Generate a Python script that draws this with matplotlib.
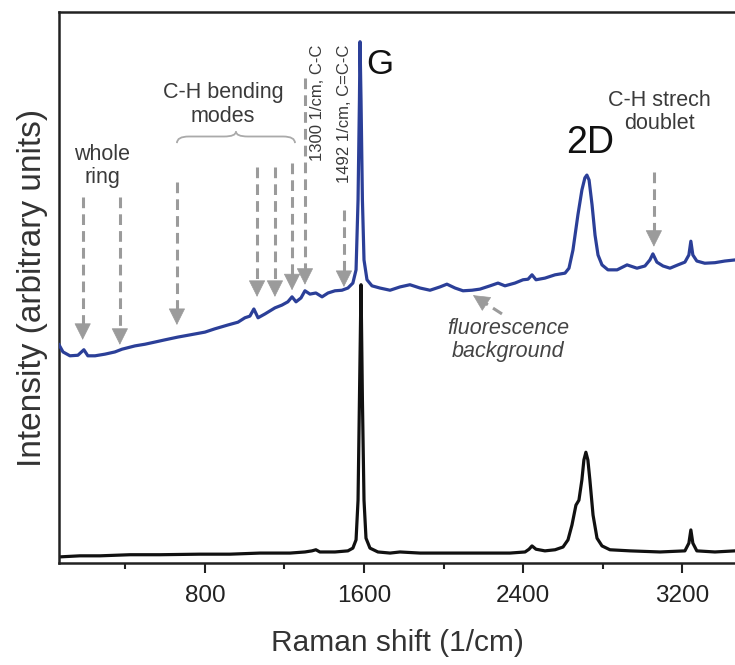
import numpy as np
import matplotlib.pyplot as plt
from matplotlib.path import Path
from matplotlib.patches import PathPatch

plt.rcParams['font.family'] = ['Liberation Sans', 'DejaVu Sans']

# graphene + adsorbate spectrum (blue)
shift_blue = [66, 86, 121, 161, 191, 211, 247, 297, 347, 383, 448, 498, 549, 599,
              664, 725, 800, 850, 916, 966, 1001, 1026, 1046, 1067, 1102, 1152,
              1187, 1217, 1238, 1258, 1283, 1303, 1328, 1358, 1389, 1419, 1454,
              1489, 1519, 1544, 1560, 1570, 1577, 1580, 1585, 1592, 1600, 1615,
              1640, 1680, 1731, 1781, 1831, 1882, 1932, 1982, 2017, 2058, 2098,
              2143, 2183, 2234, 2274, 2309, 2359, 2400, 2425, 2445, 2465, 2510,
              2561, 2611, 2631, 2651, 2676, 2696, 2711, 2721, 2732, 2747, 2762,
              2777, 2797, 2827, 2873, 2923, 2973, 3013, 3038, 3053, 3073, 3104,
              3139, 3179, 3214, 3234, 3244, 3254, 3274, 3314, 3365, 3415, 3466]
int_blue = [39.6, 38.3, 37.6, 37.7, 38.7, 37.6, 37.6, 37.9, 38.3, 38.8, 39.4, 39.7,
            40.1, 40.5, 41.0, 41.4, 41.9, 42.5, 43.2, 43.7, 44.5, 44.8, 46.1, 44.5,
            45.2, 46.3, 46.8, 47.4, 48.3, 47.4, 48.1, 49.4, 48.8, 49.0, 48.3, 49.0,
            49.4, 49.5, 49.9, 50.8, 53.2, 65.9, 84.0, 94.6, 84.0, 65.9, 55.0, 51.4,
            50.3, 49.9, 49.5, 50.1, 50.5, 49.9, 49.5, 50.1, 50.6, 49.9, 49.4, 49.5,
            49.7, 50.3, 50.8, 50.3, 50.8, 51.4, 51.5, 52.3, 51.4, 51.7, 52.3, 52.6,
            53.5, 56.8, 63.2, 67.7, 69.9, 70.4, 69.5, 65.0, 59.5, 55.9, 54.1, 53.2,
            53.2, 54.1, 53.5, 53.9, 55.0, 56.1, 54.6, 53.9, 53.5, 54.1, 54.6, 55.9,
            58.4, 55.9, 54.8, 54.4, 54.5, 54.8, 55.0]

# pristine graphene spectrum (black)
shift_black = [66, 171, 272, 423, 574, 775, 926, 1077, 1228, 1303, 1338, 1358, 1378,
               1454, 1519, 1544, 1560, 1570, 1577, 1585, 1592, 1600, 1610, 1630,
               1670, 1731, 1781, 1882, 2032, 2183, 2334, 2410, 2430, 2445, 2465,
               2510, 2561, 2601, 2626, 2646, 2666, 2681, 2696, 2706, 2716, 2726,
               2736, 2752, 2772, 2797, 2837, 2938, 3089, 3214, 3234, 3244, 3254,
               3274, 3365, 3466]
int_black = [1.1, 1.3, 1.3, 1.5, 1.5, 1.6, 1.6, 1.8, 1.8, 2.0, 2.2, 2.4, 2.0, 2.0,
             2.2, 2.7, 4.2, 11.4, 29.6, 50.5, 29.6, 11.4, 4.5, 2.7, 2.0, 1.8, 2.0,
             1.8, 1.8, 1.8, 1.8, 2.0, 2.5, 3.1, 2.5, 2.2, 2.4, 2.9, 4.2, 6.9, 10.5,
             11.4, 15.1, 18.7, 20.1, 18.7, 15.1, 8.7, 4.5, 3.1, 2.4, 2.2, 2.0, 2.2,
             3.6, 6.0, 3.6, 2.2, 2.0, 2.2]

major_ticks = [800, 1600, 2400, 3200]
minor_ticks = [400, 1200, 2000, 2800]

fig = plt.figure(figsize=(7.35, 6.65), dpi=100)
ax = fig.add_axes([0.0803, 0.1534, 0.9197, 0.8286])

ax.plot(shift_black, int_black, color='#111111', lw=2.3, zorder=2)
ax.plot(shift_blue, int_blue, color='#2b3f98', lw=2.3, zorder=3)

ax.set_xlim(66, 3466)
ax.set_ylim(0, 100)
ax.set_xticks(major_ticks)
ax.set_xticks(minor_ticks, minor=True)
ax.set_yticks([])
ax.tick_params(axis='x', which='major', direction='out', length=7, width=1.5,
               labelsize=17.5, pad=9, colors='#222222')
ax.tick_params(axis='x', which='minor', direction='out', length=4, width=1.5,
               colors='#222222')
for s in ['left', 'top', 'bottom']:
    ax.spines[s].set_linewidth(1.8)
    ax.spines[s].set_color('#222222')
ax.spines['right'].set_visible(False)

ax.set_xlabel('Raman shift (1/cm)', fontsize=21.5, color='#333333', labelpad=16)
ax.set_ylabel('Intensity (arbitrary units)', fontsize=24, color='#333333',
              labelpad=8)

grey = '#9b9b9b'
txt = '#3a3a3a'
head_px = 15


def arrow(x0, y0, x1, y1):
    # dashed shaft from (x0, y0), solid triangular head ending at (x1, y1)
    p0 = ax.transData.transform((x0, y0))
    p1 = ax.transData.transform((x1, y1))
    d = (p1 - p0) / np.hypot(*(p1 - p0))
    base = ax.transData.inverted().transform(p1 - d * head_px)
    ax.plot([x0, base[0]], [y0, base[1]], color=grey, lw=2.2,
            dashes=(3.5, 2), zorder=4)
    ax.annotate('', xy=(x1, y1), xytext=(base[0], base[1]),
                arrowprops=dict(arrowstyle='-|>,head_length=1.1,head_width=0.55',
                                color=grey, lw=0.5, mutation_scale=10,
                                shrinkA=0, shrinkB=0),
                zorder=4)


arrow(185, 66.4, 185, 40.5)
arrow(372, 66.4, 372, 39.6)
arrow(659, 69.1, 659, 43.2)
arrow(1062, 71.9, 1062, 48.3)
arrow(1152, 71.9, 1152, 48.3)
arrow(1238, 72.6, 1238, 49.5)
arrow(1303, 88.0, 1303, 50.5)
arrow(1499, 64.1, 1499, 50.1)
arrow(3058, 71.0, 3058, 57.4)
arrow(2294, 45.2, 2148, 48.6)

# curly brace over the C-H bending modes
x0, x1, ye, ym, yt = 659, 1253, 76.2, 77.4, 78.3
xm = (x0 + x1) / 2
verts = [(x0, ye), (x0, ym), (x0 + 60, ym),
         (xm - 60, ym), (xm, ym), (xm, yt),
         (xm, ym), (xm + 60, ym),
         (x1 - 60, ym), (x1, ym), (x1, ye)]
codes = [Path.MOVETO, Path.CURVE3, Path.CURVE3,
         Path.LINETO, Path.CURVE3, Path.CURVE3,
         Path.CURVE3, Path.CURVE3,
         Path.LINETO, Path.CURVE3, Path.CURVE3]
ax.add_patch(PathPatch(Path(verts, codes), fill=False, edgecolor='#aaaaaa', lw=1.3))

ax.text(282, 72.0, 'whole\nring', ha='center', va='center', fontsize=15.5,
        color=txt, linespacing=1.15)
ax.text(891, 83.2, 'C-H bending\nmodes', ha='center', va='center', fontsize=15.5,
        color=txt, linespacing=1.15)
ax.text(1368, 83.5, '1300 1/cm, C-C', rotation=90, ha='center', va='center',
        fontsize=12, color=txt)
ax.text(1504, 81.6, '1492 1/cm, C=C-C', rotation=90, ha='center', va='center',
        fontsize=12, color=txt)
ax.text(1680, 90.4, 'G', ha='center', va='center', fontsize=25, color='#111111')
ax.text(2737, 76.2, '2D', ha='center', va='center', fontsize=27, color='#111111')
ax.text(3084, 81.8, 'C-H strech\ndoublet', ha='center', va='center', fontsize=15.5,
        color=txt, linespacing=1.15)
ax.text(2324, 40.5, 'fluorescence\nbackground', ha='center', va='center',
        fontsize=15.5, color='#444444', style='italic', linespacing=1.15)

fig.savefig('out.png', dpi=100)
